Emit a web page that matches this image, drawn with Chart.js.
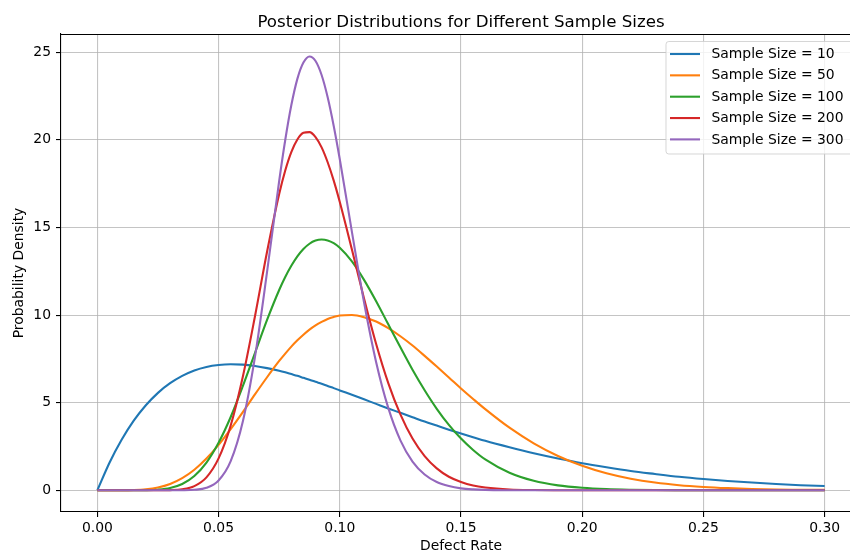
<!DOCTYPE html>
<html>
<head>
<meta charset="utf-8">
<script src="https://cdn.jsdelivr.net/npm/chart.js@4.4.1/dist/chart.umd.min.js"></script>
<style>
html, body { margin: 0; padding: 0; overflow: hidden; background: #ffffff; width: 850px; height: 555px; }
#wrap { width: 880px; height: 555px; position: relative; }
canvas { display: block; }
</style>
</head>
<body>
<div id="wrap"><canvas id="c" width="880" height="555"></canvas></div>
<script>
// ---- data ----
const defectRate = [0, 0.005, 0.01, 0.015, 0.02, 0.025, 0.03, 0.035, 0.04, 0.045, 0.05, 0.055, 0.06, 0.065, 0.07, 0.075, 0.0775, 0.08, 0.0825, 0.085, 0.0875, 0.09, 0.0925, 0.095, 0.0975, 0.10, 0.105, 0.11, 0.115, 0.12, 0.125, 0.13, 0.135, 0.14, 0.145, 0.15, 0.155, 0.16, 0.17, 0.18, 0.19, 0.20, 0.21, 0.22, 0.23, 0.24, 0.25, 0.26, 0.27, 0.28, 0.29, 0.30];

const densityN10 = [0, 1.57, 2.88, 3.97, 4.85, 5.56, 6.11, 6.53, 6.84, 7.04, 7.15, 7.19, 7.17, 7.09, 6.97, 6.82, 6.73, 6.63, 6.53, 6.42, 6.31, 6.19, 6.08, 5.95, 5.83, 5.70, 5.45, 5.19, 4.93, 4.67, 4.42, 4.17, 3.92, 3.69, 3.46, 3.24, 3.03, 2.82, 2.45, 2.11, 1.81, 1.54, 1.31, 1.10, 0.93, 0.77, 0.64, 0.53, 0.44, 0.36, 0.29, 0.24];

const densityN50 = [0, 0.000, 0.001, 0.012, 0.053, 0.156, 0.357, 0.689, 1.17, 1.81, 2.59, 3.49, 4.46, 5.47, 6.45, 7.38, 7.80, 8.20, 8.56, 8.88, 9.17, 9.41, 9.61, 9.78, 9.89, 9.97, 10.00, 9.88, 9.63, 9.25, 8.79, 8.26, 7.67, 7.06, 6.44, 5.81, 5.21, 4.63, 3.57, 2.68, 1.96, 1.40, 0.97, 0.66, 0.44, 0.29, 0.19, 0.12, 0.07, 0.04, 0.03, 0.02];

const densityN100 = [0, 0, 0, 0.001, 0.006, 0.034, 0.126, 0.355, 0.81, 1.58, 2.71, 4.18, 5.94, 7.83, 9.72, 11.43, 12.17, 12.81, 13.35, 13.77, 14.07, 14.25, 14.31, 14.26, 14.10, 13.84, 13.06, 12.01, 10.79, 9.47, 8.16, 6.88, 5.71, 4.65, 3.73, 2.95, 2.30, 1.76, 1.00, 0.54, 0.28, 0.14, 0.065, 0.030, 0.013, 0.006, 0.002, 0.001, 0, 0, 0, 0];

const densityN200 = [0, 0, 0, 0, 0, 0.001, 0.010, 0.058, 0.239, 0.739, 1.82, 3.70, 6.48, 9.92, 13.61, 16.91, 18.25, 19.30, 20.02, 20.40, 20.44, 20.16, 19.57, 18.72, 17.67, 16.45, 13.74, 10.95, 8.35, 6.12, 4.33, 2.95, 1.95, 1.25, 0.77, 0.47, 0.27, 0.16, 0.048, 0.014, 0.004, 0.001, 0, 0, 0, 0, 0, 0, 0, 0, 0, 0];

const densityN300 = [0, 0, 0, 0, 0, 0, 0, 0.003, 0.026, 0.142, 0.558, 1.66, 3.92, 7.60, 12.46, 17.65, 19.99, 21.97, 23.48, 24.41, 24.76, 24.50, 23.70, 22.43, 20.79, 18.89, 14.75, 10.73, 7.31, 4.70, 2.85, 1.64, 0.90, 0.47, 0.24, 0.11, 0.05, 0.02, 0.004, 0.001, 0, 0, 0, 0, 0, 0, 0, 0, 0, 0, 0, 0];

const seriesLabels = ['Sample Size = 10', 'Sample Size = 50', 'Sample Size = 100', 'Sample Size = 200', 'Sample Size = 300'];
const seriesValues = [densityN10, densityN50, densityN100, densityN200, densityN300];
const seriesColors = ['#1f77b4', '#ff7f0e', '#2ca02c', '#d62728', '#9467bd'];

const xTickValues = [0, 0.05, 0.10, 0.15, 0.20, 0.25, 0.30];
const xTickLabels = ['0.00', '0.05', '0.10', '0.15', '0.20', '0.25', '0.30'];
const yTickValues = [0, 5, 10, 15, 20, 25];
const yTickLabels = ['0', '5', '10', '15', '20', '25'];

const chartTitle = 'Posterior Distributions for Different Sample Sizes';
const xTitle = 'Defect Rate';
const yTitle = 'Probability Density';

// ---- styling ----
const FONT = "'DejaVu Sans', 'Liberation Sans', sans-serif";
Chart.defaults.font.family = FONT;
Chart.defaults.font.size = 13.9;
Chart.defaults.color = '#000000';

const gridColor = 'rgba(176,176,176,0.75)';

const datasets = seriesValues.map((vals, i) => ({
  label: seriesLabels[i],
  data: defectRate.map((x, j) => ({ x: x, y: vals[j] })),
  borderColor: seriesColors[i],
  backgroundColor: seriesColors[i],
  borderWidth: 2.1,
  pointRadius: 0,
  fill: false,
  cubicInterpolationMode: 'monotone',
  order: seriesValues.length - i
}));

const decorPlugin = {
  id: 'decor',
  afterDraw(chart) {
    const ctx = chart.ctx;
    const a = chart.chartArea;
    ctx.save();
    // top and right spines
    ctx.strokeStyle = '#000000';
    ctx.lineWidth = 1.1;
    ctx.beginPath();
    ctx.moveTo(a.left, a.top + 0.5);
    ctx.lineTo(a.right, a.top + 0.5);
    ctx.moveTo(a.right, a.top);
    ctx.lineTo(a.right, a.bottom);
    ctx.stroke();

    // title
    ctx.fillStyle = '#000000';
    ctx.font = '16.67px ' + FONT;
    ctx.textAlign = 'center';
    ctx.textBaseline = 'alphabetic';
    ctx.fillText(chartTitle, (a.left + a.right) / 2, 26.7);

    // legend
    const bx = 666, by = 41.5, bw = 189, bh = 112.5, r = 2.8;
    ctx.beginPath();
    ctx.moveTo(bx + r, by);
    ctx.lineTo(bx + bw - r, by);
    ctx.arcTo(bx + bw, by, bx + bw, by + r, r);
    ctx.lineTo(bx + bw, by + bh - r);
    ctx.arcTo(bx + bw, by + bh, bx + bw - r, by + bh, r);
    ctx.lineTo(bx + r, by + bh);
    ctx.arcTo(bx, by + bh, bx, by + bh - r, r);
    ctx.lineTo(bx, by + r);
    ctx.arcTo(bx, by, bx + r, by, r);
    ctx.closePath();
    ctx.fillStyle = 'rgba(255,255,255,0.8)';
    ctx.fill();
    ctx.strokeStyle = 'rgba(204,204,204,0.8)';
    ctx.lineWidth = 1;
    ctx.stroke();

    ctx.font = '13.9px ' + FONT;
    ctx.textAlign = 'left';
    ctx.textBaseline = 'middle';
    chart.data.datasets.forEach((ds, i) => {
      const y = 54 + i * 21.35;
      ctx.strokeStyle = ds.borderColor;
      ctx.lineWidth = 2.1;
      ctx.beginPath();
      ctx.moveTo(670, y);
      ctx.lineTo(700, y);
      ctx.stroke();
      ctx.fillStyle = '#000000';
      ctx.fillText(ds.label, 711.5, y + 0.5);
    });
    ctx.restore();
  }
};

new Chart(document.getElementById('c'), {
  type: 'line',
  data: { datasets: datasets },
  options: {
    responsive: false,
    animation: false,
    devicePixelRatio: 1,
    layout: { padding: { left: 0, right: 19, top: 34, bottom: 0 } },
    plugins: {
      legend: { display: false },
      title: { display: false },
      tooltip: { enabled: false }
    },
    scales: {
      x: {
        type: 'linear',
        min: -0.015,
        max: 0.315,
        afterBuildTicks: s => { s.ticks = xTickValues.map(v => ({ value: v })); },
        afterFit: s => { s.height = 43; },
        ticks: {
          callback: (v, i) => xTickLabels[i],
          color: '#000000',
          font: { size: 13.9 },
          padding: 3,
          maxRotation: 0,
          autoSkip: false
        },
        grid: { color: gridColor, lineWidth: 1.1, tickColor: '#000000', tickLength: 5, tickWidth: 1.1 },
        border: { display: true, color: '#000000', width: 1.1 },
        title: { display: true, text: xTitle, color: '#000000', font: { size: 13.9 }, padding: { top: 0, bottom: 0 } }
      },
      y: {
        type: 'linear',
        min: -1.24,
        max: 26.04,
        afterBuildTicks: s => { s.ticks = yTickValues.map(v => ({ value: v })); },
        afterFit: s => { s.width = 61; },
        ticks: {
          callback: (v, i) => yTickLabels[i],
          color: '#000000',
          font: { size: 13.9 },
          padding: 5,
          autoSkip: false
        },
        grid: { color: gridColor, lineWidth: 1.1, tickColor: '#000000', tickLength: 5, tickWidth: 1.1 },
        border: { display: true, color: '#000000', width: 1.1 },
        title: { display: true, text: yTitle, color: '#000000', font: { size: 13.9 }, padding: { top: 11, bottom: 0 } }
      }
    }
  },
  plugins: [decorPlugin]
});
</script>
</body>
</html>
